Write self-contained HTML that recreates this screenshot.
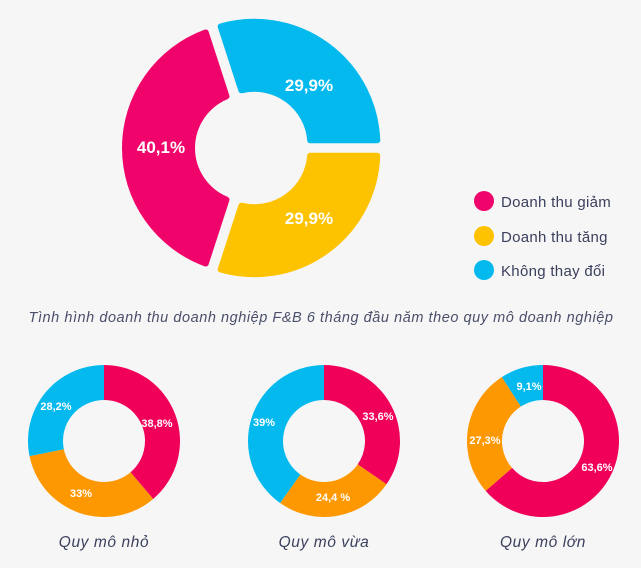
<!DOCTYPE html>
<html><head><meta charset="utf-8"><style>
html,body{margin:0;padding:0;background:#f6f6f6;}
svg{display:block}
</style></head><body>
<svg id="s" width="641" height="568" viewBox="0 0 641 568" xmlns="http://www.w3.org/2000/svg" font-family="Liberation Sans, sans-serif">
<rect width="641" height="568" fill="#f6f6f6"/>
<g id="g"></g>
<g font-weight="bold" fill="#fff" text-anchor="middle" font-size="17">
<text x="161" y="153">40,1%</text>
<text x="309" y="91">29,9%</text>
<text x="309" y="224">29,9%</text>
</g>
<circle cx="484" cy="201" r="10" fill="#f0036b"/>
<circle cx="484" cy="236" r="10" fill="#fdc300"/>
<circle cx="484" cy="270" r="10" fill="#03b9ee"/>
<g fill="#3a3f5c" font-size="15" letter-spacing="0.3">
<text x="501" y="207">Doanh thu giảm</text>
<text x="501" y="242">Doanh thu tăng</text>
<text x="501" y="276">Không thay đổi</text>
</g>
<text x="321" y="322" text-anchor="middle" font-style="italic" font-size="14.5" letter-spacing="0.55" fill="#4a4f6a">Tình hình doanh thu doanh nghiệp F&amp;B 6 tháng đầu năm theo quy mô doanh nghiệp</text>
<g font-weight="bold" fill="#fff" font-size="11" text-anchor="middle">
<text x="56" y="410">28,2%</text>
<text x="157" y="427">38,8%</text>
<text x="81" y="497">33%</text>
<text x="264" y="426">39%</text>
<text x="378" y="420">33,6%</text>
<text x="333" y="501">24,4 %</text>
<text x="529" y="390">9,1%</text>
<text x="485" y="444">27,3%</text>
<text x="597" y="471">63,6%</text>
</g>
<g font-style="italic" font-size="15.5" letter-spacing="0.6" fill="#3a3f5c" text-anchor="middle">
<text x="104" y="547">Quy mô nhỏ</text>
<text x="324" y="547">Quy mô vừa</text>
<text x="543" y="547">Quy mô lớn</text>
</g>
</svg>
<script>
var g=document.getElementById('g'),NS='http://www.w3.org/2000/svg';
function P(a,r,cx,cy){a=(a-90)*Math.PI/180;return [cx+r*Math.cos(a),cy+r*Math.sin(a)];}
function seg(cx,cy,ro,ri,a0,a1,col,ex,gap,sw){
 var m=(a0+a1)/2,o=P(m,ex,0,0);cx+=o[0];cy+=o[1];
 var go=gap/ro*57.3/2,gi=gap/ri*57.3/2;
 var A=P(a0+go,ro,cx,cy),B=P(a1-go,ro,cx,cy),C=P(a1-gi,ri,cx,cy),D=P(a0+gi,ri,cx,cy);
 var l=(a1-a0)>180?1:0;
 var d='M'+A+' A'+ro+','+ro+' 0 '+l+' 1 '+B+' L'+C+' A'+ri+','+ri+' 0 '+l+' 0 '+D+' Z';
 var p=document.createElementNS(NS,'path');p.setAttribute('d',d);p.setAttribute('fill',col);
 if(sw){p.setAttribute('stroke',col);p.setAttribute('stroke-width',sw);p.setAttribute('stroke-linejoin','round');}
 g.appendChild(p);
}
seg(252,148,123,56,-18,90,'#03b9ee',4,9,6);
seg(252,148,123,56,90,198,'#fdc300',4,9,6);
seg(252,148,123,56,198,342,'#f0036b',4,9,6);
function small(cx,data){var t=data.reduce(function(a,b){return a+b[0]},0),a=0;
 data.forEach(function(d){var a1=a+d[0]/t*360;seg(cx,441,76,41,a,a1,d[1],0,0,0);a=a1;});}
small(104,[[38.8,'#f1005a'],[33,'#fe9800'],[28.2,'#03b9ee']]);
small(324,[[33.6,'#f1005a'],[24.4,'#fe9800'],[39,'#03b9ee']]);
small(543,[[63.6,'#f1005a'],[27.3,'#fe9800'],[9.1,'#03b9ee']]);
</script>
</body></html>
